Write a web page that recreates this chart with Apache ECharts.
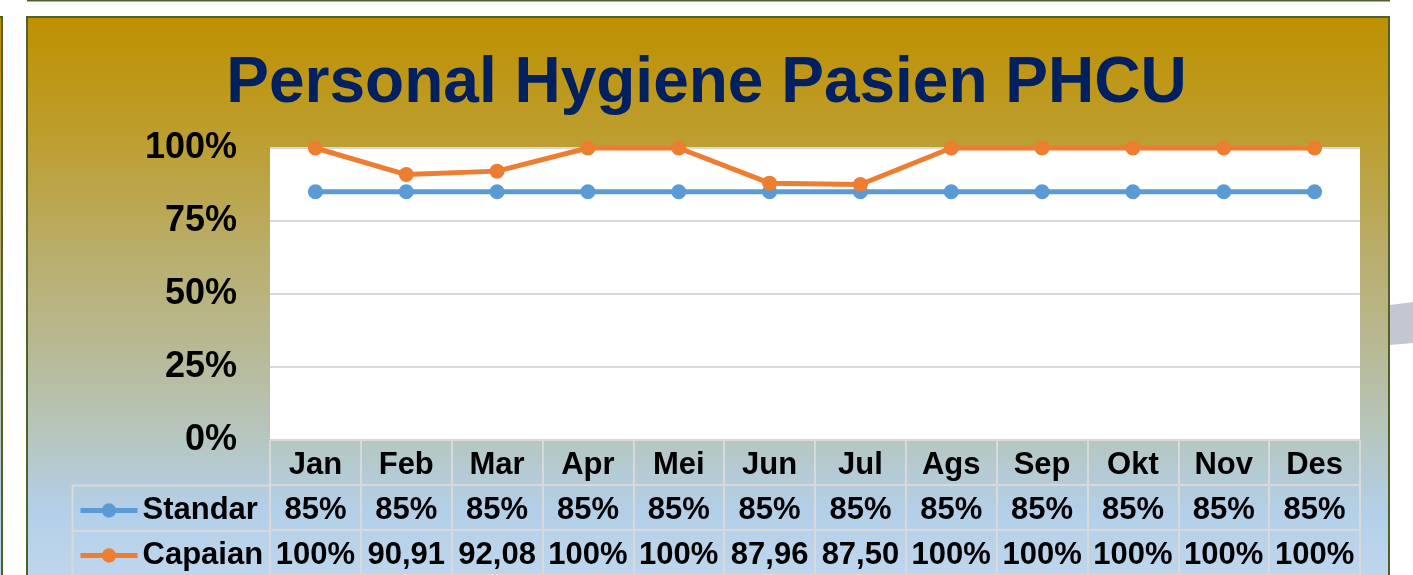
<!DOCTYPE html>
<html>
<head>
<meta charset="utf-8">
<script src="https://cdn.jsdelivr.net/npm/echarts@6/dist/echarts.min.js"></script>
<style>
  html, body { margin: 0; padding: 0; background: #ffffff; }
  #chart { width: 1413px; height: 575px; }
</style>
</head>
<body>
<div id="chart"></div>
<script>
// data
var months = ['Jan', 'Feb', 'Mar', 'Apr', 'Mei', 'Jun', 'Jul', 'Ags', 'Sep', 'Okt', 'Nov', 'Des'];
var standar = [85, 85, 85, 85, 85, 85, 85, 85, 85, 85, 85, 85];
var capaian = [100, 90.91, 92.08, 100, 100, 87.96, 87.50, 100, 100, 100, 100, 100];
var yTicks = [0, 25, 50, 75, 100];

var FONT = 'Arial, "Liberation Sans", sans-serif';
var GREEN = '#4F6228';

function bgGradient() {
    return new echarts.graphic.LinearGradient(0, 0, 0, 1, [
        { offset: 0, color: '#BF9000' },
        { offset: 0.2, color: '#BD9E2E' },
        { offset: 0.4, color: '#B9AE6E' },
        { offset: 0.55, color: '#B8B994' },
        { offset: 0.7, color: '#B6C6C0' },
        { offset: 0.82, color: '#B3CFE8' },
        { offset: 1, color: '#C5DBF0' }
    ]);
}

function fmtStandar(v) { return v + '%'; }
function fmtCapaian(v) {
    if (v === 100) return '100%';
    return v.toFixed(2).replace('.', ',');
}

// cells for table rows
var headCells = [], standarCells = [], capaianCells = [];
for (var i = 0; i < months.length; i++) {
    headCells.push([i, 0]);
    standarCells.push([i, 1]);
    capaianCells.push([i, 2]);
}

var cellLabel = {
    show: true,
    position: 'inside',
    offset: [0, 3],
    color: '#000000',
    opacity: 1,
    fontFamily: FONT,
    fontWeight: 'bold',
    fontSize: 31
};

function legendFor(name, top) {
    return {
        data: [name],
        left: 78,
        top: top,
        padding: 0,
        itemWidth: 57,
        itemHeight: 18,
        itemGap: 5,
        lineStyle: { width: 5 },
        textStyle: {
            color: '#000000',
            fontFamily: FONT,
            fontWeight: 'bold',
            fontSize: 31,
            lineHeight: 31
        }
    };
}

function tableRow(name, cells, fmt) {
    return {
        name: name,
        type: 'scatter',
        xAxisIndex: 1,
        yAxisIndex: 1,
        symbolSize: 0,
        silent: true,
        itemStyle: { opacity: 1 },
        data: cells,
        label: Object.assign({}, cellLabel, { formatter: fmt })
    };
}

var myChart = echarts.init(document.getElementById('chart'));
var option = {
    animation: false,
    backgroundColor: '#ffffff',
    title: {
        text: 'Personal Hygiene Pasien PHCU',
        left: 'center',
        top: 47,
        textStyle: {
            color: '#002060',
            fontFamily: FONT,
            fontWeight: 'bold',
            fontSize: 64
        }
    },
    legend: [legendFor('Standar', 495), legendFor('Capaian', 540)],
    graphic: [
        {
            type: 'rect', z: -10, silent: true,
            shape: { x: -6, y: 17, width: 8, height: 600 },
            style: { fill: bgGradient(), stroke: GREEN, lineWidth: 2 }
        },
        {
            type: 'rect', z: -10, silent: true,
            shape: { x: 27, y: 17, width: 1362, height: 600 },
            style: { fill: bgGradient(), stroke: GREEN, lineWidth: 2 }
        },
        {
            type: 'line', z: -10, silent: true,
            shape: { x1: 27, y1: 0.5, x2: 1390, y2: 0.5 },
            style: { stroke: GREEN, lineWidth: 2 }
        },
        {
            type: 'polygon', z: -10, silent: true,
            shape: { points: [[1390, 305], [1413, 302], [1413, 343], [1390, 345]] },
            style: { fill: '#C2C7D1' }
        },
        // row label column borders
        {
            type: 'line', z: 5, silent: true,
            shape: { x1: 72, y1: 485.5, x2: 270, y2: 485.5 },
            style: { stroke: '#D9D9D9', lineWidth: 2 }
        },
        {
            type: 'line', z: 5, silent: true,
            shape: { x1: 72, y1: 531, x2: 270, y2: 531 },
            style: { stroke: '#D9D9D9', lineWidth: 2 }
        },
        {
            type: 'line', z: 5, silent: true,
            shape: { x1: 72.5, y1: 485.5, x2: 72.5, y2: 580 },
            style: { stroke: '#D9D9D9', lineWidth: 2 }
        }
    ],
    grid: [
        {
            left: 270, right: 53, top: 148, height: 292,
            show: true, backgroundColor: '#ffffff', borderWidth: 0
        },
        {
            left: 270, right: 53, top: 440, height: 136.5
        }
    ],
    xAxis: [
        {
            gridIndex: 0,
            type: 'category',
            boundaryGap: true,
            data: months,
            axisLine: { show: false },
            axisTick: { show: false },
            axisLabel: { show: false }
        },
        {
            gridIndex: 1,
            type: 'category',
            boundaryGap: true,
            data: months,
            axisLine: { show: false },
            axisTick: { show: false },
            axisLabel: { show: false },
            splitLine: { show: true, lineStyle: { color: '#D9D9D9', width: 2 } }
        }
    ],
    yAxis: [
        {
            gridIndex: 0,
            type: 'value',
            min: yTicks[0],
            max: yTicks[yTicks.length - 1],
            interval: 25,
            axisLine: { show: false },
            axisTick: { show: false },
            axisLabel: {
                formatter: '{value}%',
                color: '#000000',
                fontFamily: FONT,
                fontWeight: 'bold',
                fontSize: 36,
                margin: 33,
                padding: [10, 0, 0, 0]
            },
            splitLine: { lineStyle: { color: '#D9D9D9', width: 2 } }
        },
        {
            gridIndex: 1,
            type: 'category',
            inverse: true,
            data: ['', 'Standar', 'Capaian'],
            axisLine: { show: false },
            axisTick: { show: false },
            axisLabel: { show: false },
            splitLine: { show: true, lineStyle: { color: '#D9D9D9', width: 2 } }
        }
    ],
    series: [
        {
            name: 'Standar',
            type: 'line',
            xAxisIndex: 0,
            yAxisIndex: 0,
            data: standar,
            symbol: 'circle',
            symbolSize: 15,
            color: '#5B9BD5',
            lineStyle: { width: 5, color: '#5B9BD5' },
            itemStyle: { color: '#5B9BD5' }
        },
        {
            name: 'Capaian',
            type: 'line',
            xAxisIndex: 0,
            yAxisIndex: 0,
            data: capaian,
            symbol: 'circle',
            symbolSize: 15,
            color: '#ED7D31',
            lineStyle: { width: 5, color: '#ED7D31' },
            itemStyle: { color: '#ED7D31' }
        },
        tableRow('bulan', headCells, function (p) { return months[p.data[0]]; }),
        tableRow('standarRow', standarCells, function (p) { return fmtStandar(standar[p.data[0]]); }),
        tableRow('capaianRow', capaianCells, function (p) { return fmtCapaian(capaian[p.data[0]]); })
    ]
};
myChart.setOption(option);
</script>
</body>
</html>
